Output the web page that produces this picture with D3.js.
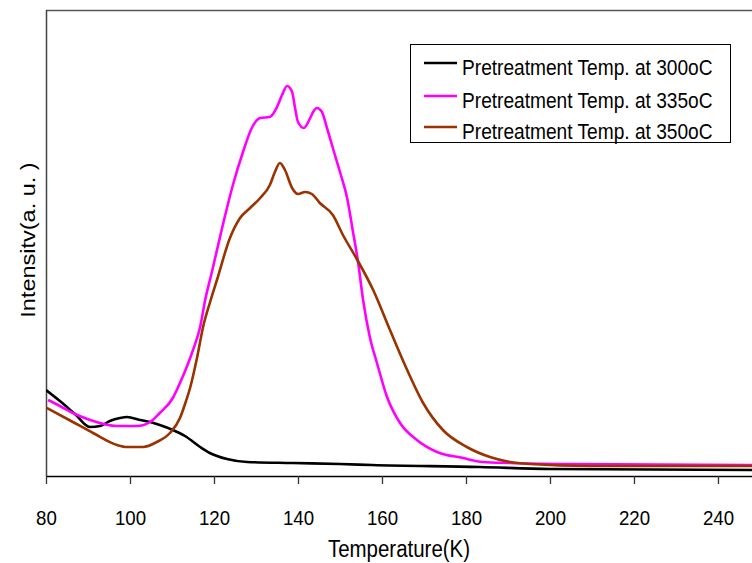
<!DOCTYPE html>
<html>
<head>
<meta charset="utf-8">
<script src="https://cdn.jsdelivr.net/npm/d3@7"></script>
<style>
  html, body { margin: 0; padding: 0; background: #fff; }
  svg { display: block; font-family: "Liberation Sans", Arial, sans-serif; }
</style>
</head>
<body>
<svg id="chart" width="752" height="563"></svg>
<script>
// Temperature (K) and intensity (a.u.) for each pretreatment temperature
const temp300 = [80.0, 83.3, 86.9, 90.5, 92.9, 95.2, 97.6, 99.3, 102.4, 104.8, 107.1, 110.2, 113.1, 116.7, 119.0, 123.1, 127.9, 138.8, 150.0, 157.6, 183.3, 200.0, 248.1];
const int300  = [86, 75, 62, 49, 50, 55, 58, 59, 56, 54, 51, 46, 40, 29, 23, 17, 14, 13, 12, 11, 9, 7, 6];

const temp335 = [80.5, 83.3, 86.4, 90.5, 96.9, 101.7, 104.8, 107.1, 110.2, 111.9, 115.0, 116.7, 117.9, 119.5, 122.1, 124.5, 126.9, 129.0, 131.0, 133.3, 135.0, 136.2, 137.4, 138.6, 139.3, 140.0, 141.4, 142.9, 143.6, 144.5, 145.7, 146.9, 148.3, 150.0, 151.7, 153.1, 154.3, 155.5, 157.1, 158.8, 161.2, 164.3, 168.3, 173.1, 179.3, 184.0, 190.5, 204.3, 248.1];
const int335  = [76, 70, 63, 56, 50, 50, 54, 63, 78, 93, 126, 149, 176, 204, 251, 291, 324, 348, 358, 359, 369, 381, 390, 384, 368, 354, 348, 358, 364, 368, 364, 348, 328, 304, 278, 244, 214, 176, 139, 113, 79, 53, 36, 24, 18, 14, 13, 12, 11];

const temp350 = [80.2, 86.4, 91.2, 96.9, 99.3, 103.1, 106.4, 109.5, 111.9, 113.1, 114.3, 116.0, 117.4, 119.0, 120.7, 123.8, 126.2, 128.6, 131.0, 133.3, 134.5, 135.7, 136.9, 138.6, 140.0, 141.7, 143.3, 145.2, 148.3, 150.7, 154.0, 157.9, 161.9, 166.0, 169.8, 174.5, 180.2, 185.7, 190.5, 195.2, 209.5, 248.1];
const int350  = [68, 54, 43, 31, 29, 29, 34, 43, 58, 72, 88, 119, 149, 173, 196, 238, 258, 268, 278, 291, 304, 313, 306, 288, 282, 284, 282, 273, 261, 241, 217, 186, 146, 106, 73, 46, 29, 19, 14, 12, 10, 10];

const seriesNames  = ["Pretreatment Temp. at 300oC", "Pretreatment Temp. at 335oC", "Pretreatment Temp. at 350oC"];
const seriesColors = ["#000000", "#ff00ff", "#993300"];
const xTicks = [80, 100, 120, 140, 160, 180, 200, 220, 240];

const series = [
  { name: seriesNames[0], color: seriesColors[0], pts: temp300.map((t, i) => [t, int300[i]]) },
  { name: seriesNames[1], color: seriesColors[1], pts: temp335.map((t, i) => [t, int335[i]]) },
  { name: seriesNames[2], color: seriesColors[2], pts: temp350.map((t, i) => [t, int350[i]]) }
];

const svg = d3.select("#chart");
const plot = { left: 46, top: 10, right: 752, bottom: 476 };
const squeeze = 0.89; // narrow the Arial-like glyphs horizontally

const x = d3.scaleLinear().domain([80, 248.1]).range([plot.left, plot.right]);
const y = d3.scaleLinear().domain([0, 466]).range([plot.bottom, plot.top]);

svg.append("defs").append("clipPath").attr("id", "plotClip")
  .append("rect")
  .attr("x", plot.left).attr("y", plot.top)
  .attr("width", plot.right - plot.left).attr("height", plot.bottom - plot.top);

// Frame: top border and left axis line
svg.append("line")
  .attr("x1", plot.left).attr("x2", plot.right)
  .attr("y1", plot.top + 0.5).attr("y2", plot.top + 0.5)
  .attr("stroke", "#555").attr("stroke-width", 1.5);
svg.append("line")
  .attr("x1", plot.left + 0.5).attr("x2", plot.left + 0.5)
  .attr("y1", plot.top).attr("y2", plot.bottom)
  .attr("stroke", "#444").attr("stroke-width", 1.5);

// Curves
const line = d3.line()
  .x(d => x(d[0]))
  .y(d => y(d[1]))
  .curve(d3.curveMonotoneX);

svg.append("g").attr("clip-path", "url(#plotClip)")
  .selectAll("path")
  .data(series)
  .join("path")
  .attr("d", d => line(d.pts))
  .attr("fill", "none")
  .attr("stroke", d => d.color)
  .attr("stroke-width", 2.6)
  .attr("stroke-linejoin", "round");

// X axis
const xAxis = svg.append("g")
  .attr("transform", `translate(0,${plot.bottom})`)
  .call(d3.axisBottom(x).tickValues(xTicks).tickSize(8).tickSizeOuter(0).tickFormat(d3.format("d")));
xAxis.select(".domain").attr("stroke", "#000").attr("stroke-width", 1.3);
xAxis.selectAll(".tick line").attr("stroke", "#333").attr("stroke-width", 1.3);
xAxis.selectAll(".tick text")
  .attr("y", 49).attr("dy", null)
  .attr("fill", "#000")
  .style("font-size", "21px")
  .style("font-family", "'Liberation Sans', Arial, sans-serif")
  .attr("transform", `scale(${squeeze},1)`);

// Axis titles
svg.append("text")
  .attr("transform", `translate(${(plot.left + plot.right) / 2},557) scale(${squeeze},1)`)
  .attr("text-anchor", "middle")
  .style("font-size", "23px")
  .text("Temperature(K)");

svg.append("text")
  .attr("transform", `translate(35,240) rotate(-90) scale(1,${squeeze})`)
  .attr("text-anchor", "middle")
  .style("font-size", "23.5px")
  .text("Intensitv(a. u. )");

// Legend
const legend = svg.append("g");
legend.append("rect")
  .attr("x", 410.5).attr("y", 44.5).attr("width", 320).attr("height", 98)
  .attr("fill", "#fff").attr("stroke", "#000").attr("stroke-width", 1);
const rows = legend.selectAll("g.row")
  .data(series)
  .join("g")
  .attr("class", "row")
  .attr("transform", (d, i) => `translate(0,${[63, 96, 127][i]})`);
rows.append("line")
  .attr("x1", 424).attr("x2", 457)
  .attr("stroke", d => d.color).attr("stroke-width", 2.6);
rows.append("text")
  .attr("transform", `translate(462,12) scale(${squeeze},1)`)
  .style("font-size", "21.5px")
  .text(d => d.name);
</script>
</body>
</html>
